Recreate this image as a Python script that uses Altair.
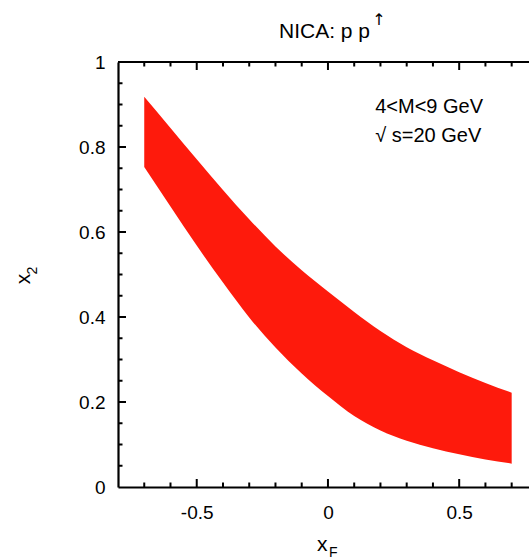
import altair as alt
import pandas as pd

# ---- data ----
xf = [-0.7, -0.6, -0.5, -0.4, -0.3, -0.2, -0.1, 0.0, 0.1, 0.2, 0.3, 0.4, 0.5, 0.6, 0.7]
x2_low = [0.753, 0.660, 0.568, 0.481, 0.399, 0.328, 0.267, 0.214, 0.167, 0.133, 0.109, 0.091, 0.077, 0.065, 0.055]
x2_high = [0.918, 0.845, 0.771, 0.699, 0.630, 0.566, 0.510, 0.460, 0.412, 0.367, 0.329, 0.298, 0.270, 0.245, 0.222]

x_label_ticks = [-0.5, 0.0, 0.5]
x_minor_ticks = [-0.7, -0.6, -0.4, -0.3, -0.2, -0.1, 0.1, 0.2, 0.3, 0.4, 0.6, 0.7]
y_label_ticks = [0.0, 0.2, 0.4, 0.6, 0.8, 1.0]
y_major_ticks = [0.2, 0.4, 0.6, 0.8]
y_minor_ticks = [0.05, 0.1, 0.15, 0.25, 0.3, 0.35, 0.45, 0.5, 0.55, 0.65, 0.7, 0.75, 0.85, 0.9, 0.95]

title_text = "NICA: p p"
title_sup = "↑"
note_lines = ["4<M<9 GeV", "√ s=20 GeV"]

# ---- layout ----
W, H = 411, 425
X0, X1 = -0.8, 0.766
Y0, Y1 = 0.0, 1.0
FONT = "Liberation Sans"
RED = "#fe1a0c"

# tick lengths converted to data units
MAJ_Y = 8 / H * (Y1 - Y0)
MIN_Y = 4.5 / H * (Y1 - Y0)
MAJ_X = 8 / W * (X1 - X0)
MIN_X = 4.5 / W * (X1 - X0)

xs = alt.Scale(domain=[X0, X1], nice=False, zero=False)
ys = alt.Scale(domain=[Y0, Y1], nice=False, zero=False)

X_AXIS = alt.Axis(
    values=x_label_ticks, title=None, grid=False, ticks=False, tickSize=0,
    labelPadding=16, labelFont=FONT, labelFontSize=19, labelColor="black",
    labelFlush=False, domainColor="black", domainWidth=2.2,
    labelExpr="(datum.value < 0 ? '-' : '') + format(abs(datum.value), '~g')")
Y_AXIS = alt.Axis(
    values=y_label_ticks, title=None, grid=False, ticks=False, tickSize=0,
    labelPadding=13, labelFont=FONT, labelFontSize=19, labelColor="black",
    labelFlush=False, domainColor="black", domainWidth=2.2,
    labelExpr="format(datum.value, '~g')")

band_df = pd.DataFrame({"xF": xf, "lo": x2_low, "hi": x2_high})

band = alt.Chart(band_df).mark_area(color=RED, interpolate="monotone", opacity=1).encode(
    x=alt.X("xF:Q", scale=xs, axis=X_AXIS),
    y=alt.Y("lo:Q", scale=ys, axis=Y_AXIS),
    y2="hi:Q",
)

# ---- inward ticks and top frame, positioned through the scales ----
rows = []
for v in x_label_ticks:
    rows.append(dict(xF=v, xF2=v, lo=Y0, hi=Y0 + MAJ_Y))
    rows.append(dict(xF=v, xF2=v, lo=Y1, hi=Y1 - MAJ_Y))
for v in x_minor_ticks:
    rows.append(dict(xF=v, xF2=v, lo=Y0, hi=Y0 + MIN_Y))
    rows.append(dict(xF=v, xF2=v, lo=Y1, hi=Y1 - MIN_Y))
for v in y_major_ticks:
    rows.append(dict(xF=X0, xF2=X0 + MAJ_X, lo=v, hi=v))
for v in y_minor_ticks:
    rows.append(dict(xF=X0, xF2=X0 + MIN_X, lo=v, hi=v))
tick_df = pd.DataFrame(rows)

ticks = alt.Chart(tick_df).mark_rule(color="black", strokeWidth=2).encode(
    x=alt.X("xF:Q", scale=xs, axis=X_AXIS), x2="xF2:Q",
    y=alt.Y("lo:Q", scale=ys, axis=Y_AXIS), y2="hi:Q")

frame_df = pd.DataFrame({"xF": [X0], "xF2": [X1], "lo": [Y1]})
top_border = alt.Chart(frame_df).mark_rule(color="black", strokeWidth=2.2).encode(
    x=alt.X("xF:Q", scale=xs, axis=X_AXIS), x2="xF2:Q",
    y=alt.Y("lo:Q", scale=ys, axis=Y_AXIS))

note_df = pd.DataFrame({"xF": [0.18, 0.18], "lo": [0.879, 0.8125], "t": note_lines})
notes = alt.Chart(note_df).mark_text(
    align="left", baseline="alphabetic", font=FONT, fontSize=20, color="black"
).encode(x=alt.X("xF:Q", scale=xs, axis=X_AXIS),
         y=alt.Y("lo:Q", scale=ys, axis=Y_AXIS), text="t:N")

one = pd.DataFrame({"a": [0]})


def label(txt, x, y, size, align="left", angle=0, font=FONT):
    return alt.Chart(one).mark_text(
        text=txt, align=align, baseline="alphabetic", font=font, fontSize=size,
        color="black", angle=angle
    ).encode(x=alt.value(x), y=alt.value(y))


title = label(title_text, 206.5, -24, 21, align="center")
title_arrow = label(title_sup, 261, -37, 16, align="center", font="DejaVu Sans")
xlab = label("x", 199, 489, 21)
xlab_sub = label("F", 211, 495, 14)
ylab = label("x", -88, 217, 21, align="center", angle=270)
ylab_sub = label("2", -81, 208.5, 14, align="center", angle=270)

chart = alt.layer(
    band, ticks, top_border, notes,
    title, title_arrow, xlab, xlab_sub, ylab, ylab_sub,
).properties(
    width=W, height=H,
    autosize=alt.AutoSizeParams(type="none"),
    padding={"left": 118, "top": 62, "right": 0, "bottom": 73},
).configure_view(stroke=None)

chart.save("out.html", embed_options={"renderer": "svg", "actions": False})
